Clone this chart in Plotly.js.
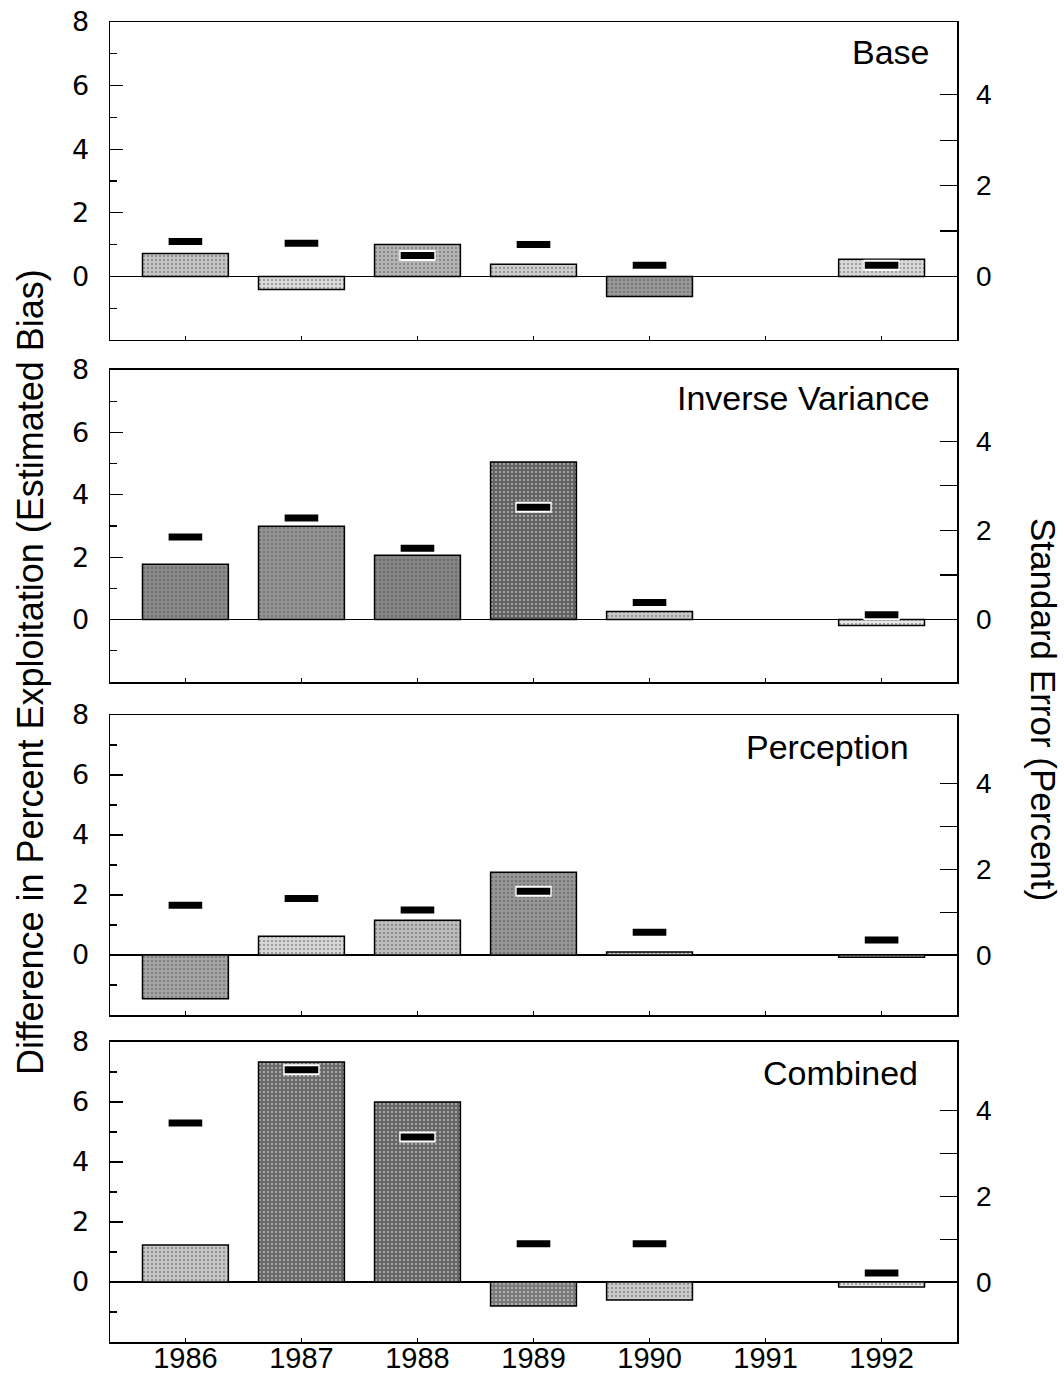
<!DOCTYPE html>
<html>
<head>
<meta charset="utf-8">
<script src="https://cdn.plot.ly/plotly-3.0.1.min.js"></script>
<style>
  html, body { margin: 0; padding: 0; background: #ffffff; }
  #chart { width: 1064px; height: 1380px; }
</style>
</head>
<body>
<div id="chart"></div>
<script>
// ---------- data ----------
const years = [1986, 1987, 1988, 1989, 1990, 1991, 1992];
const yearLabels = ['1986', '1987', '1988', '1989', '1990', '1991', '1992'];

const panelNames = ['Base', 'Inverse Variance', 'Perception', 'Combined'];

// Estimated bias (difference in percent exploitation)
const biasBase       = [0.72, -0.41, 1.00, 0.38, -0.63, null, 0.54];
const biasInvVar     = [1.77, 2.99, 2.06, 5.05, 0.26, null, -0.19];
const biasPerception = [-1.46, 0.63, 1.16, 2.76, 0.10, null, -0.07];
const biasCombined   = [1.23, 7.33, 6.00, -0.80, -0.60, null, -0.17];

// Standard error (percent)
const seBase       = [0.77, 0.73, 0.46, 0.70, 0.245, null, 0.245];
const seInvVar     = [1.85, 2.28, 1.60, 2.52, 0.385, null, 0.11];
const sePerception = [1.16, 1.32, 1.05, 1.49, 0.53, null, 0.35];
const seCombined   = [3.71, 4.95, 3.38, 0.89, 0.89, null, 0.21];

const leftTicks = [0, 2, 4, 6, 8];
const leftMinorTicks = [-1, 1, 3, 5, 7];
const rightTicks = [0, 1, 2, 3, 4];
const rightTickText = ['0', '', '2', '', '4'];

// ---------- styles (halftone gray shades of each bar) ----------
const fillBase       = ['#c4c4c4', '#dadada', '#b4b4b4', '#cccccc', '#989898', '#ffffff', '#d8d8d8'];
const fillInvVar     = ['#8a8a8a', '#939393', '#858585', '#626262', '#c8c8c8', '#ffffff', '#e8e8e8'];
const fillPerception = ['#a4a4a4', '#d6d6d6', '#bcbcbc', '#959595', '#cccccc', '#ffffff', '#dedede'];
const fillCombined   = ['#c6c6c6', '#6a6a6a', '#666666', '#7a7a7a', '#cacaca', '#ffffff', '#e2e2e2'];

const biasSets = [biasBase, biasInvVar, biasPerception, biasCombined];
const seSets = [seBase, seInvVar, sePerception, seCombined];
const fillSets = [fillBase, fillInvVar, fillPerception, fillCombined];

// ---------- layout geometry ----------
const domains = [[0.7591, 1.0], [0.5, 0.7364], [0.2477, 0.475], [0.0, 0.2273]];
const labelX = [0.9705, 0.9705, 0.9457, 0.9563];
const labelY = [0.906, 0.910, 0.893, 0.897];

const FONT = 'Liberation Sans, Arial, Helvetica, sans-serif';
const ROUND = 'DejaVu Sans, Verdana, sans-serif';

const traces = [];
const layout = {
  width: 1064,
  height: 1380,
  margin: {l: 110, r: 107, t: 22, b: 38, pad: 0},
  paper_bgcolor: '#ffffff',
  plot_bgcolor: '#ffffff',
  showlegend: false,
  barmode: 'overlay',
  font: {family: FONT, color: '#000000', size: 28},
  annotations: []
};

for (let i = 0; i < 4; i++) {
  const n = i + 1;
  const xa = n === 1 ? 'x' : 'x' + n;
  const ya = n === 1 ? 'y' : 'y' + n;
  const ya2 = 'y' + (n + 4);

  traces.push({
    type: 'bar',
    x: years,
    y: biasSets[i],
    xaxis: xa,
    yaxis: ya,
    width: 0.74,
    marker: {
      color: fillSets[i],
      pattern: {shape: '.', fgcolor: '#3a3a3a', size: 4, solidity: 0.22, fillmode: 'overlay'},
      line: {color: '#000000', width: 1.5}
    },
    hoverinfo: 'x+y'
  });
  // white halo under SE dashes (visible on dark bars)
  traces.push({
    type: 'scatter',
    mode: 'markers',
    x: years,
    y: seSets[i],
    xaxis: xa,
    yaxis: ya2,
    marker: {symbol: 'line-ew', size: 26, color: '#ffffff', line: {color: '#ffffff', width: 11}},
    hoverinfo: 'skip'
  });
  traces.push({
    type: 'scatter',
    mode: 'markers',
    x: years,
    y: seSets[i],
    xaxis: xa,
    yaxis: ya2,
    marker: {symbol: 'line-ew', size: 24, color: '#000000', line: {color: '#000000', width: 7}},
    hoverinfo: 'x+y'
  });

  const xKey = n === 1 ? 'xaxis' : 'xaxis' + n;
  const yKey = n === 1 ? 'yaxis' : 'yaxis' + n;
  const y2Key = 'yaxis' + (n + 4);

  layout[xKey] = {
    domain: [0, 1],
    anchor: ya,
    range: [1985.35, 1992.65],
    tickmode: 'array',
    tickvals: years,
    ticktext: yearLabels,
    showticklabels: n === 4,
    ticks: 'inside',
    ticklen: 4,
    tickwidth: 1,
    tickcolor: '#000000',
    showgrid: false,
    zeroline: false,
    showline: true,
    linecolor: '#000000',
    linewidth: 1.5,
    mirror: true,
    tickfont: {family: FONT, size: 29, color: '#000000'},
    ticklabelstandoff: -10,
    fixedrange: true
  };
  layout[yKey] = {
    domain: domains[i],
    anchor: xa,
    range: [-2, 8],
    tickmode: 'array',
    tickvals: leftTicks,
    ticks: 'inside',
    ticklen: 13,
    tickwidth: 1.2,
    tickcolor: '#000000',
    minor: {tickmode: 'array', tickvals: leftMinorTicks, ticks: 'inside', ticklen: 7, tickwidth: 1.2, tickcolor: '#000000', showgrid: false},
    showgrid: false,
    zeroline: true,
    zerolinecolor: '#000000',
    zerolinewidth: 1.6,
    showline: true,
    linecolor: '#000000',
    linewidth: 1.5,
    mirror: true,
    tickfont: {family: ROUND, size: 27, color: '#000000'},
    ticklabelstandoff: 14,
    fixedrange: true
  };
  layout[y2Key] = {
    domain: domains[i],
    anchor: xa,
    overlaying: ya,
    side: 'right',
    range: [-1.4, 5.6],
    tickmode: 'array',
    tickvals: rightTicks,
    ticktext: rightTickText,
    ticks: 'inside',
    ticklen: 17,
    tickwidth: 1.2,
    tickcolor: '#000000',
    showgrid: false,
    zeroline: false,
    showline: false,
    tickfont: {family: FONT, size: 28, color: '#000000'},
    ticklabelstandoff: 18,
    fixedrange: true
  };

  layout.annotations.push({
    text: panelNames[i],
    xref: xa + ' domain',
    yref: ya + ' domain',
    x: labelX[i],
    y: labelY[i],
    xanchor: 'right',
    yanchor: 'middle',
    showarrow: false,
    font: {family: FONT, size: 34, color: '#000000'}
  });
}

layout.annotations.push({
  text: 'Difference in Percent Exploitation (Estimated Bias)',
  xref: 'paper', yref: 'paper',
  x: -0.0933, y: 0.5076,
  xanchor: 'center', yanchor: 'middle',
  textangle: -90,
  showarrow: false,
  font: {family: FONT, size: 36, color: '#000000'}
});
layout.annotations.push({
  text: 'Standard Error (Percent)',
  xref: 'paper', yref: 'paper',
  x: 1.1015, y: 0.4788,
  xanchor: 'center', yanchor: 'middle',
  textangle: 90,
  showarrow: false,
  font: {family: FONT, size: 35, color: '#000000'}
});

Plotly.newPlot('chart', traces, layout, {displayModeBar: false, staticPlot: true});
</script>
</body>
</html>
